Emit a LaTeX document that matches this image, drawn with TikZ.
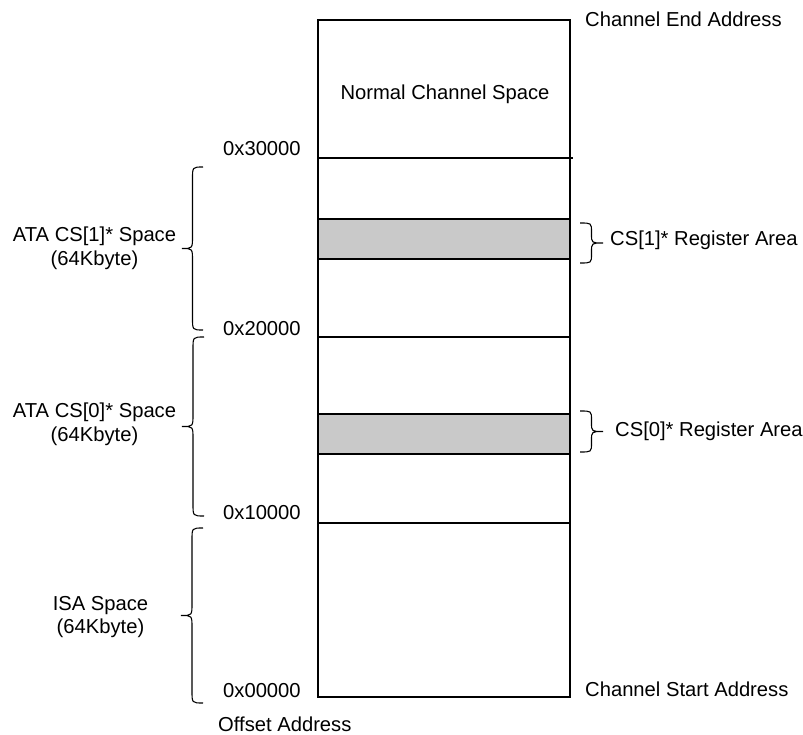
\documentclass[tikz,border=0pt]{standalone}
\usepackage{fontspec}
\setmainfont{Liberation Sans}
\newcommand{\drawmybrace}[5]{% xe, xt, ytop, ybot, r
  \draw[bracestyle] (#1,#3) .. controls ({(#1+#2)/2},#3) .. ({(#1+#2)/2},{#3+#5})
    -- ({(#1+#2)/2},{(#3+#4)/2-#5}) .. controls ({(#1+#2)/2},{(#3+#4)/2}) .. (#2,{(#3+#4)/2})
    .. controls ({(#1+#2)/2},{(#3+#4)/2}) .. ({(#1+#2)/2},{(#3+#4)/2+#5})
    -- ({(#1+#2)/2},{#4-#5}) .. controls ({(#1+#2)/2},#4) .. (#1,#4);}
\begin{document}
\begin{tikzpicture}[x=1pt,y=-1pt,
  txt/.style={inner sep=0pt,font=\fontsize{20.2}{24}\selectfont},
  boxline/.style={line width=1.2pt,black},
  band/.style={fill=black!21,draw=black,line width=1.2pt},
  bracestyle/.style={line width=1.1pt,black}]
\useasboundingbox (0,0) rectangle (803,735);
% memory map
\draw[band] (318,219) rectangle (570,259);
\draw[band] (318,414) rectangle (570,454);
\draw[boxline] (318,20) rectangle (570,697);
\draw[boxline] (318,158) -- (573,158);
\draw[boxline] (318,337) -- (570,337);
\draw[boxline] (318,523) -- (570,523);
% texts
\node[txt,anchor=base west] (endaddr) at (585,27) {Channel End Address};
\node[txt,anchor=base west] (startaddr) at (585,696) {Channel Start Address};
\node[txt,anchor=base] (normal) at (445,100) {Normal Channel Space};
\node[txt,anchor=base west] (a3) at (223,156) {0x30000};
\node[txt,anchor=base west] (a2) at (223,335) {0x20000};
\node[txt,anchor=base west] (a1) at (223,519) {0x10000};
\node[txt,anchor=base west] (a0) at (223,697) {0x00000};
\node[txt,anchor=base west] (offset) at (218,731) {Offset Address};
\node[txt,anchor=base] (cs1a) at (94.5,242) {ATA CS[1]* Space};
\node[txt,anchor=base] (cs1b) at (94.5,266) {(64Kbyte)};
\node[txt,anchor=base] (cs0a) at (94.5,417) {ATA CS[0]* Space};
\node[txt,anchor=base] (cs0b) at (94.5,441) {(64Kbyte)};
\node[txt,anchor=base] (isaa) at (100.5,610) {ISA Space};
\node[txt,anchor=base] (isab) at (100.5,633) {(64Kbyte)};
\node[txt,anchor=base west] (reg1) at (610,246) {CS[1]* Register Area};
\node[txt,anchor=base west] (reg0) at (615,436) {CS[0]* Register Area};
% braces
\drawmybrace{203}{182}{167}{330}{12}
\drawmybrace{204}{182}{337}{516}{12}
\drawmybrace{203}{181}{528}{703}{12}
\drawmybrace{580}{603}{223}{263}{9}
\drawmybrace{580}{603}{411}{452}{9}
\end{tikzpicture}
\end{document}
